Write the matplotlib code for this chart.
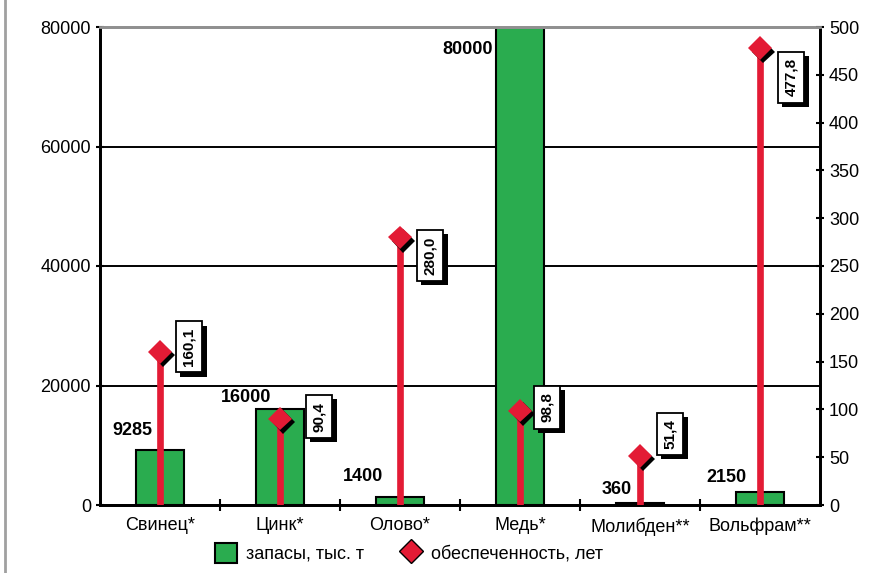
import matplotlib.pyplot as plt
import matplotlib.patheffects as pe
from matplotlib.lines import Line2D
from matplotlib.patches import Patch

metals = ["Свинец*", "Цинк*", "Олово*", "Медь*", "Молибден**", "Вольфрам**"]
reserves = [9285, 16000, 1400, 80000, 360, 2150]          # запасы, тыс. т
years = [160.1, 90.4, 280.0, 98.8, 51.4, 477.8]           # обеспеченность, лет
reserve_labels = ["9285", "16000", "1400", "80000", "360", "2150"]
year_labels = ["160,1", "90,4", "280,0", "98,8", "51,4", "477,8"]

# label placement (pixels from bar top / diamond)
reserve_offsets = [(-28, 19), (-34, 12), (-37, 20), (-52, -23), (-23, 13), (-34, 15)]
year_offsets = [(29, 5), (39, 2), (30, -18), (27, 3), (30, 22), (31, -29)]

GREEN = "#2aac4f"
RED = "#e31b35"

plt.rcParams["font.family"] = ["Liberation Sans", "DejaVu Sans"]

fig = plt.figure(figsize=(8.93, 5.73), dpi=100)
ax = fig.add_axes([100 / 893, 68 / 573, 720 / 893, 478 / 573])
ax2 = ax.twinx()

x = list(range(len(metals)))
ax.bar(x, reserves, width=0.4, color=GREEN, edgecolor="black", linewidth=1.5, zorder=2)
ax.set_xlim(-0.5, len(metals) - 0.5)
ax.set_ylim(0, 80000)
ax.set_yticks([0, 20000, 40000, 60000, 80000])
ax.set_xticks(x)
ax.set_xticklabels(metals, fontsize=13)
ax.set_xticks([i + 0.5 for i in x[:-1]], minor=True)
ax.tick_params(axis="x", which="major", length=0, pad=9)
ax.tick_params(axis="x", which="minor", length=9, width=1.5, direction="inout")
ax.tick_params(axis="y", labelsize=13, length=6, width=1.5, direction="inout")
ax.grid(axis="y", color="black", linewidth=1.4, zorder=0)
ax.set_axisbelow(True)

for a in (ax, ax2):
    for sp in ["left", "right", "bottom"]:
        a.spines[sp].set_linewidth(2)
    a.spines["top"].set_color("#909090")
    a.spines["top"].set_linewidth(2)

# stems and diamonds on the right axis
ax2.set_ylim(0, 500)
ax2.set_yticks(range(0, 501, 50))
ax2.tick_params(axis="y", labelsize=13, length=6, width=1.5, direction="inout")
ax2.vlines(x, 0, years, color=RED, linewidth=4.8, zorder=3)
shadow = [pe.SimplePatchShadow(offset=(2.5, -2.5), shadow_rgbFace="black", alpha=1), pe.Normal()]
ax2.plot(x, years, "D", color=RED, markersize=12, markeredgewidth=0, zorder=4,
         path_effects=shadow)

# reserve values, drawn on top of the stems
for xi, v, lab, (dx, dy) in zip(x, reserves, reserve_labels, reserve_offsets):
    ax2.annotate(lab, (xi, min(v, 80000)), xycoords=ax.transData, xytext=(dx, dy),
                 textcoords="offset pixels", ha="center", va="center",
                 fontsize=13, fontweight="bold", zorder=5)

for xi, v, lab, (dx, dy) in zip(x, years, year_labels, year_offsets):
    t = ax2.annotate(lab, (xi, v), xytext=(dx, dy), textcoords="offset pixels",
                     ha="center", va="center", rotation=90, fontsize=11, fontweight="bold",
                     bbox=dict(boxstyle="square,pad=0.42", fc="white", ec="black", lw=1.3),
                     zorder=6)
    t.get_bbox_patch().set_path_effects(
        [pe.SimplePatchShadow(offset=(3, -3), shadow_rgbFace="black", alpha=1), pe.Normal()])

handles = [
    Patch(facecolor=GREEN, edgecolor="black", linewidth=1.5),
    Line2D([], [], marker="D", linestyle="none", color=RED, markersize=12,
           markeredgecolor="black", markeredgewidth=1),
]
fig.legend(handles, ["запасы, тыс. т", "обеспеченность, лет"], loc="center",
           bbox_to_anchor=(0.458, 0.035), ncol=2, frameon=False, fontsize=13,
           handlelength=1.2, handleheight=1.3, handletextpad=0.5, columnspacing=2.0)

# grey frame line at the left edge
fig.add_artist(Line2D([5 / 893, 5 / 893], [0, 1], color="#a0a0a0", linewidth=2))

fig.savefig("out.png", dpi=100)
